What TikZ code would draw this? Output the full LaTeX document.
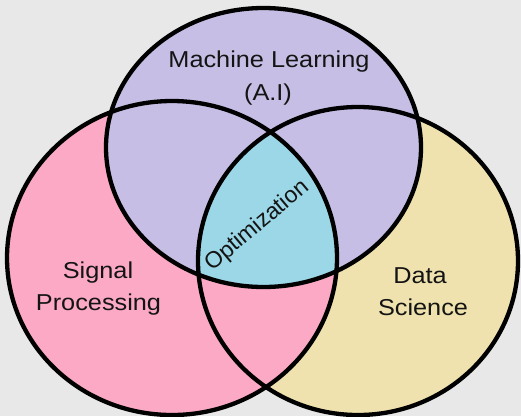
\documentclass[tikz,border=0pt]{standalone}
\usepackage{fontspec}
\setmainfont{Liberation Sans}
\usepackage{graphicx}

\definecolor{bgcol}{HTML}{E8E8E8}
\definecolor{mlcol}{HTML}{C6BEE4}
\definecolor{spcol}{HTML}{FBA9C5}
\definecolor{dscol}{HTML}{EFE2AE}
\definecolor{optcol}{HTML}{9BD7E7}
\definecolor{inkcol}{HTML}{141414}

% slightly widened lettering for the set labels
\newcommand{\widetext}[1]{\scalebox{1.1}[1]{#1}}

\begin{document}
\begin{tikzpicture}[x=1pt, y=-1pt,
    ring/.style={draw=black, line width=4.3pt},
    lbl/.style={anchor=base, inner sep=0pt, text=inkcol,
                font=\fontsize{23}{27}\selectfont}]

  % canvas
  \fill[bgcol] (0,0) rectangle (521,416);
  \useasboundingbox (0,0) rectangle (521,416);
  \clip (0,0) rectangle (521,416);

  % set areas: data science, signal processing, machine learning
  \fill[dscol] (358,261) ellipse [x radius=160pt, y radius=154pt];
  \fill[spcol] (172,258) ellipse [x radius=165pt, y radius=157pt];
  \fill[mlcol] (263.5,147.5) ellipse [x radius=157.5pt, y radius=139.5pt];

  % common part of all three sets
  \begin{scope}
    \clip (172,258) ellipse [x radius=165pt, y radius=157pt];
    \clip (358,261) ellipse [x radius=160pt, y radius=154pt];
    \fill[optcol] (263.5,147.5) ellipse [x radius=157.5pt, y radius=139.5pt];
  \end{scope}

  % outlines
  \draw[ring] (358,261) ellipse [x radius=160pt, y radius=154pt];
  \draw[ring] (172,258) ellipse [x radius=165pt, y radius=157pt];
  \draw[ring] (263.5,147.5) ellipse [x radius=157.5pt, y radius=139.5pt];

  % labels
  \node[lbl] (ml1) at (269,67)  {\widetext{Machine Learning}};
  \node[lbl] (ml2) at (268,100) {\widetext{(A.I)}};
  \node[lbl] (sp1) at (98,278)  {\widetext{Signal}};
  \node[lbl] (sp2) at (98.5,310) {\widetext{Processing}};
  \node[lbl] (ds1) at (420,283) {\widetext{Data}};
  \node[lbl] (ds2) at (423,315) {\widetext{Science}};
  \node[lbl, anchor=center, rotate=40] (opt) at (257.5,226) {Optimization};
\end{tikzpicture}
\end{document}
